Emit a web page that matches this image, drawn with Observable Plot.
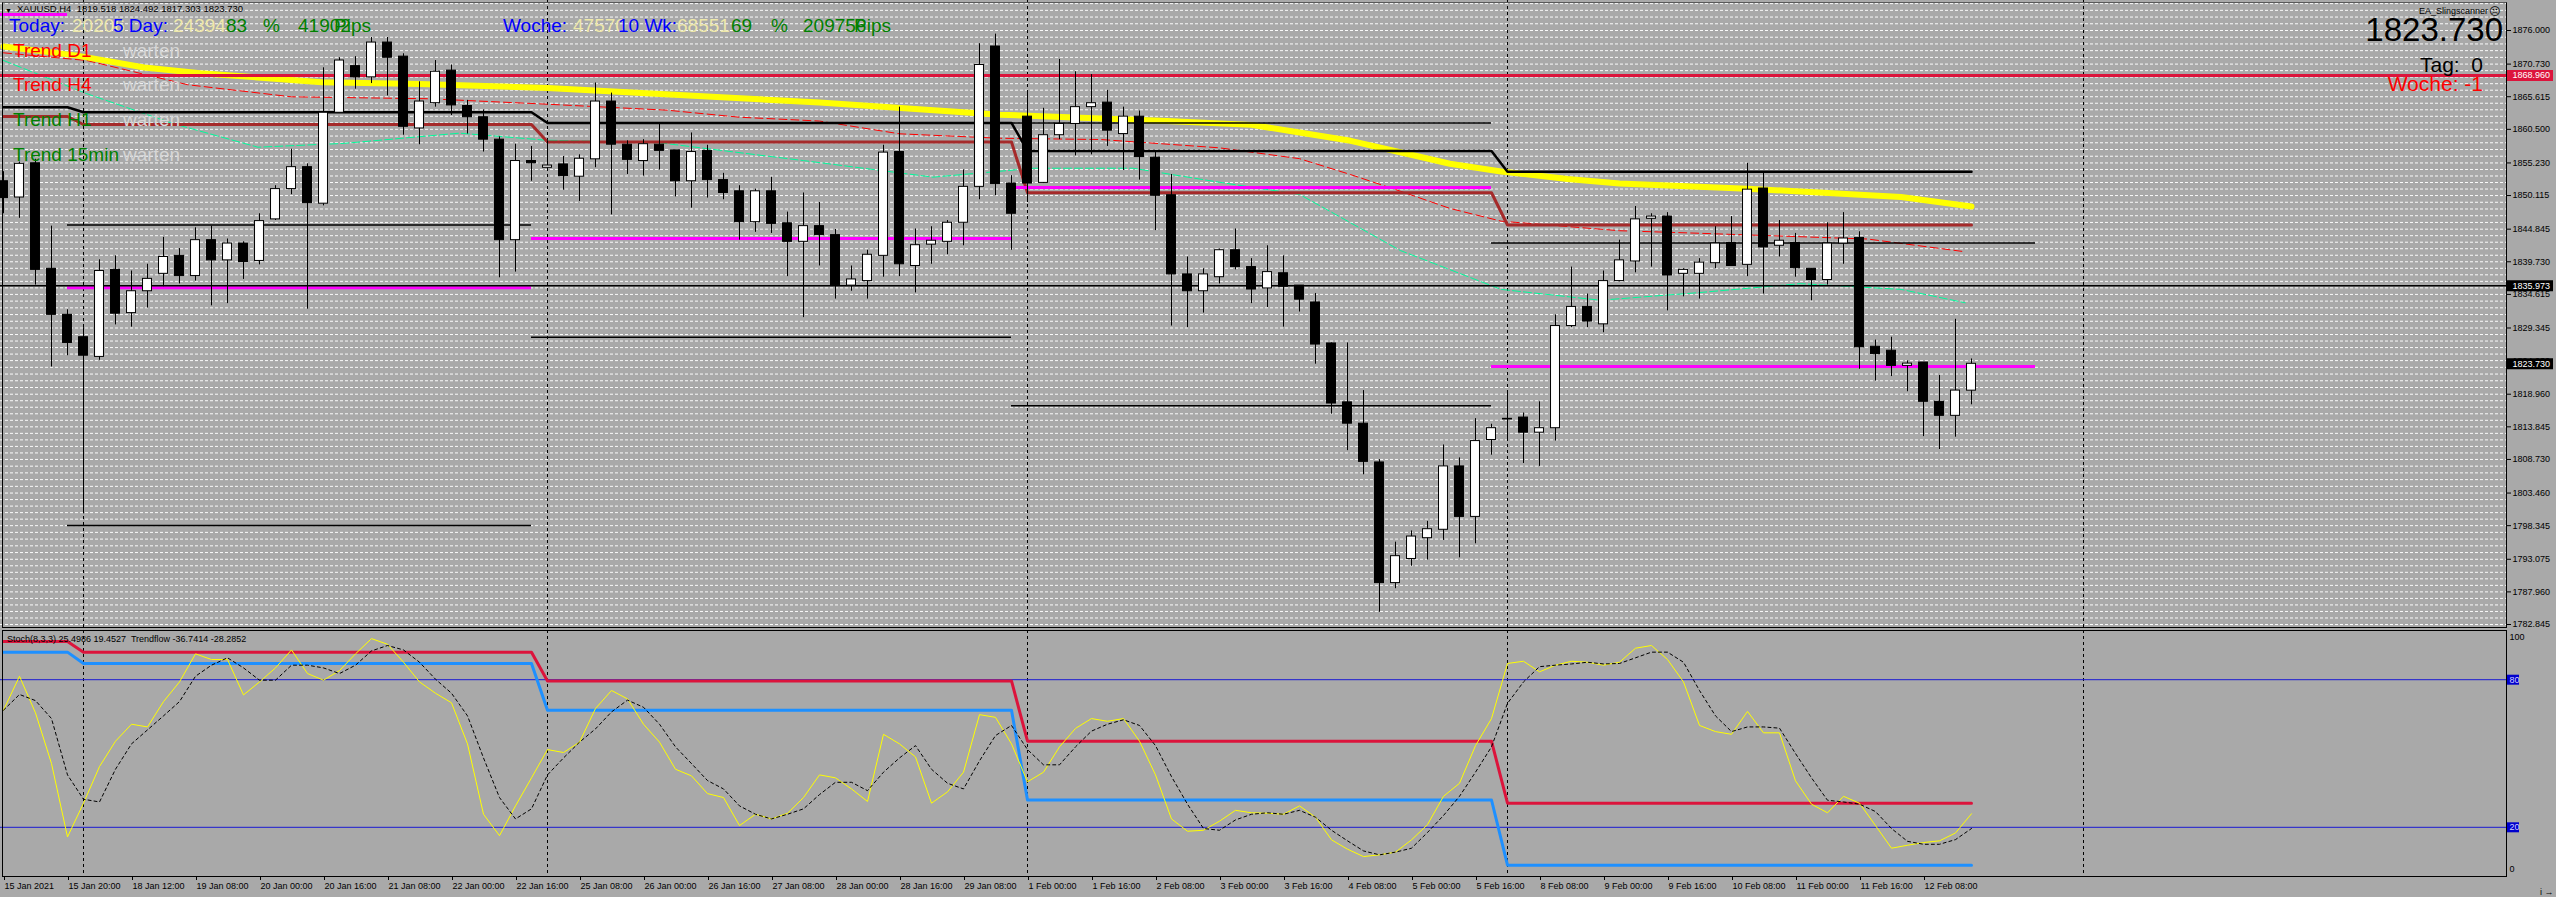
<!DOCTYPE html>
<html><head><meta charset="utf-8">
<script src="https://cdn.jsdelivr.net/npm/d3@7"></script>
<script src="https://cdn.jsdelivr.net/npm/@observablehq/plot@0.6"></script>
<style>
html,body{margin:0;padding:0;background:#a9a9a9;overflow:hidden;}
#wrap{position:relative;width:2556px;height:897px;font-family:"Liberation Sans",Arial,sans-serif;}
#main,#ind{position:absolute;left:0;}
#main{top:0;}
#ind{top:630px;}
.frame{position:absolute;border:1px solid #000;box-sizing:border-box;pointer-events:none;}
#fmain{left:2px;top:2px;width:2505px;height:626px;border-top-color:#5a5a5a;}
#find{left:2px;top:630px;width:2505px;height:247px;}
#overlay{position:absolute;left:0;top:0;pointer-events:none;}
</style></head>
<body><div id="wrap"><div id="main"></div><div id="ind"></div><div class="frame" id="fmain"></div><div class="frame" id="find"></div></div>
<script>
// ---------- DATA (XAUUSD H4) ----------
const openP = [1852.36,1849.81,1855.18,1838.63,1831.41,1827.90,1824.81,1838.46,1831.68,1835.11,
1837.84,1840.66,1837.49,1843.12,1839.95,1842.59,1839.86,1846.38,1851.13,1854.57,
1848.84,1863.10,1870.41,1868.65,1874.11,1871.90,1860.64,1864.60,1869.71,1864.16,
1862.40,1858.88,1843.12,1855.53,1854.47,1855.00,1853.07,1855.80,1864.86,1858.09,
1855.53,1858.09,1857.20,1852.36,1857.12,1852.54,1850.78,1845.94,1850.78,1845.76,
1842.86,1845.32,1843.91,1835.99,1836.70,1840.66,1856.94,1839.07,1842.42,1842.86,
1845.85,1851.48,1873.49,1852.00,1862.49,1852.10,1859.58,1861.34,1863.98,1864.69,
1859.76,1862.49,1856.06,1850.17,1837.75,1835.11,1837.31,1841.54,1838.90,1835.55,
1837.93,1835.99,1833.35,1826.92,1817.68,1814.34,1808.26,1789.34,1793.12,1796.38,
1797.70,1807.64,1799.72,1811.78,1815.10,1815.30,1812.93,1813.63,1829.65,1832.65,
1829.92,1836.70,1839.78,1846.47,1846.82,1837.84,1837.84,1839.51,1842.68,1839.25,
1851.22,1842.24,1842.68,1838.63,1836.87,1842.59,1843.47,1826.40,1825.78,1823.40,
1823.93,1817.77,1815.57,1819.518];
const highP = [1853.86,1855.36,1855.80,1845.32,1832.20,1829.40,1840.04,1840.66,1838.28,1839.34,
1843.56,1841.80,1845.06,1845.32,1843.30,1842.86,1847.26,1851.66,1857.38,1855.09,
1870.15,1871.73,1871.90,1874.90,1874.90,1872.35,1867.95,1871.29,1870.59,1865.04,
1863.54,1859.32,1858.17,1857.82,1858.70,1856.24,1856.50,1867.77,1866.18,1858.70,
1858.88,1861.34,1857.20,1859.93,1858.00,1853.60,1851.66,1851.13,1852.98,1847.52,
1850.52,1849.02,1844.80,1839.07,1841.54,1858.00,1863.98,1844.88,1845.23,1846.20,
1854.13,1873.93,1875.43,1853.24,1866.18,1863.80,1871.47,1869.53,1869.09,1866.62,
1863.98,1863.37,1856.94,1853.42,1840.48,1838.63,1841.72,1844.88,1840.22,1842.24,
1840.66,1835.99,1834.76,1827.00,1827.00,1819.53,1808.70,1795.76,1797.52,1799.02,
1811.00,1808.97,1815.13,1814.25,1819.09,1816.01,1817.77,1831.41,1838.90,1834.67,
1838.28,1843.12,1848.40,1847.26,1847.44,1838.63,1840.22,1845.23,1846.82,1855.18,
1853.69,1846.20,1844.18,1838.63,1845.85,1847.44,1844.44,1827.45,1827.90,1824.20,
1823.93,1821.90,1830.71,1824.492];
const lowP = [1847.26,1846.55,1836.08,1823.23,1825.00,1800.20,1824.28,1829.83,1829.48,1832.47,
1835.82,1836.26,1836.70,1832.82,1833.17,1836.96,1839.25,1846.20,1850.25,1832.29,
1848.50,1863.00,1866.80,1867.68,1865.74,1859.58,1858.09,1863.98,1862.66,1859.76,
1856.94,1837.22,1838.11,1852.36,1854.40,1850.96,1849.20,1854.48,1847.08,1853.42,
1853.16,1854.13,1849.90,1848.14,1849.72,1849.46,1843.12,1844.35,1844.17,1837.40,
1830.97,1839.07,1833.88,1835.11,1833.88,1837.31,1837.40,1834.85,1839.34,1840.83,
1842.24,1849.46,1850.08,1841.54,1849.02,1852.00,1858.88,1856.33,1856.50,1857.82,
1854.04,1852.54,1844.62,1829.65,1829.40,1831.68,1836.26,1838.46,1833.17,1832.56,
1829.48,1831.85,1823.67,1815.83,1810.11,1806.33,1784.76,1788.46,1791.98,1792.95,
1796.03,1793.30,1795.50,1809.40,1811.96,1808.09,1807.64,1811.61,1829.40,1829.40,
1828.60,1836.60,1838.00,1838.90,1832.03,1834.23,1833.88,1838.63,1839.00,1837.40,
1834.67,1840.48,1837.31,1833.61,1836.08,1839.34,1822.87,1821.02,1821.73,1819.35,
1812.31,1810.29,1812.22,1817.303];
const closeP = [1849.72,1855.09,1838.46,1831.41,1827.00,1825.00,1838.28,1831.59,1835.11,1837.05,
1840.48,1837.49,1843.12,1839.95,1842.59,1839.69,1846.11,1851.13,1854.57,1848.93,
1863.10,1871.29,1868.65,1874.11,1871.73,1860.90,1864.86,1869.53,1864.25,1862.40,
1858.88,1843.12,1855.53,1855.18,1854.82,1853.16,1855.89,1864.86,1858.09,1855.71,
1858.17,1857.12,1852.36,1856.94,1852.54,1850.52,1845.94,1850.78,1845.67,1842.86,
1845.32,1843.91,1836.08,1836.96,1840.83,1856.85,1839.34,1842.33,1843.03,1845.85,
1851.48,1870.59,1851.92,1847.26,1852.00,1859.58,1861.34,1863.98,1864.60,1860.29,
1862.49,1856.15,1850.08,1837.75,1835.11,1837.75,1841.54,1838.90,1835.38,1838.11,
1835.82,1833.79,1826.75,1817.50,1814.34,1808.35,1789.34,1793.56,1796.64,1797.79,
1807.64,1799.72,1811.61,1813.63,1815.00,1812.93,1813.63,1829.65,1832.65,1830.36,
1836.70,1839.95,1846.38,1846.82,1837.58,1838.46,1839.60,1842.59,1839.07,1851.04,
1841.98,1843.03,1838.72,1836.87,1842.59,1843.38,1826.31,1825.25,1823.40,1823.76,
1817.77,1815.57,1819.53,1823.730];

// Moving averages (sampled at bar positions)
const yellowMaBars = [0,4.5,8.8,12.3,19.9,26,34,51,62.3,72.7,78,81,84.2,87.3,90.4,93.6,97.75,101,109,118.6,123];
const yellowMaVals = [1873.5,1872.1,1870.2,1869.3,1867.9,1867.6,1867.0,1864.7,1862.8,1861.8,1861.2,1860.0,1858.7,1856.9,1855.1,1853.9,1852.7,1852.0,1851.2,1849.9,1848.4];
const redMaBars = [0,5.2,11.5,18,26.5,33.5,41.5,46,51,56,62.3,68.6,76,81,84.2,87.3,90.4,93.6,101,106,116.5,122.6];
const redMaVals = [1872.5,1871.3,1867.5,1865.6,1865.3,1864.5,1863.5,1862.4,1861.8,1859.8,1859.1,1858.9,1857.6,1855.9,1853.4,1850.8,1848.1,1846.1,1844.6,1844.2,1843.3,1841.3];
const greenMaBars = [0,5.2,10.6,15.9,21.3,28.5,33.9,41,50,58.1,64.4,70.6,76,81,87.3,93.6,99.8,106,112.3,118.6,122.6];
const greenMaVals = [1871.3,1866.1,1861.4,1857.7,1858.3,1859.9,1858.8,1858.4,1855.6,1853.0,1854.4,1854.4,1852.2,1850.3,1841.5,1835.4,1833.7,1834.9,1836.3,1835.4,1833.3];

// Weekly step indicator levels
const weekStartBars = [0,5,34,64,94];
const blackStepLevels = [1863.97,1863.19,1861.50,1857.12,1853.86];
const brownStepLevels = [1862.51,1861.26,1858.51,1850.55,1845.50];

// Weekly horizontal objects
const magentaSegStart = [-1,4,33,63,93];
const magentaSegEnd   = [4,33,63,93,127];
const magentaSegLevel = [1878.5,1835.64,1843.38,1851.39,1823.32];
const blackSegStart = [4,4,33,63,63,93];
const blackSegEnd   = [33,33,63,93,93,127];
const blackSegLevel = [1845.50,1798.37,1827.90,1817.15,1861.50,1842.69];

const redLevel = 1868.960;
const blackLevel = 1835.973;
const lastPrice = 1823.730;
const separatorBars = [5,34,64,94,130];

const priceTickValues = [1876.000,1870.730,1865.615,1860.500,1855.230,1850.115,1844.845,1839.730,1834.615,1829.345,1824.230,1818.960,1813.845,1808.730,1803.460,1798.345,1793.075,1787.960,1782.845];

const dateTickBars = [0,4,8,12,16,20,24,28,32,36,40,44,48,52,56,60,64,68,72,76,80,84,88,92,96,100,104,108,112,116,120];
const dateTickLabels = ["15 Jan 2021","15 Jan 20:00","18 Jan 12:00","19 Jan 08:00","20 Jan 00:00","20 Jan 16:00","21 Jan 08:00","22 Jan 00:00","22 Jan 16:00","25 Jan 08:00","26 Jan 00:00","26 Jan 16:00","27 Jan 08:00","28 Jan 00:00","28 Jan 16:00","29 Jan 08:00","1 Feb 00:00","1 Feb 16:00","2 Feb 08:00","3 Feb 00:00","3 Feb 16:00","4 Feb 08:00","5 Feb 00:00","5 Feb 16:00","8 Feb 08:00","9 Feb 00:00","9 Feb 16:00","10 Feb 08:00","11 Feb 00:00","11 Feb 16:00","12 Feb 08:00"];

// Stochastic (8,3,3)
const stochK = [67.6,81.4,66.5,45.9,16.1,29.8,44.7,55.0,61.9,60.8,71.1,79.1,90.5,88.2,88.2,73.8,79.1,84.8,92.1,82.5,
79.8,83.7,90.5,96.7,94.4,87.1,79.1,74.5,70.6,53.9,25.3,16.6,28.7,40.1,51.6,50.4,54.6,68.3,75.6,72.2,
61.9,54.6,43.6,40.9,33.7,32.1,20.7,25.3,23.4,25.7,32.1,41.3,40.1,35.6,30.5,57.8,53.9,48.6,29.8,34.4,
42.4,65.8,64.7,53.9,38.5,42.4,52.7,60.2,64.2,63.1,64.2,55.0,41.3,23.4,18.4,18.8,22.5,26.9,25.9,25.7,
25.3,28.7,24.1,14.9,11.1,8.1,8.8,9.9,14.9,21.1,32.6,37.9,53.2,64.2,86.6,87.5,83.2,85.9,87.5,87.1,
85.9,87.1,92.8,93.9,88.2,79.1,61.4,58.9,57.8,67.1,58.4,58.4,38.9,29.4,25.9,32.6,29.8,20.7,11.5,12.7,
13.8,14.5,17.7,25.5];
const stochD = [67.6,74.0,71.5,64.2,41.3,31.4,30.3,43.6,53.9,59.6,65.3,71.1,81.4,85.9,88.9,84.8,79.8,79.8,85.9,85.9,
84.8,82.5,85.9,91.7,93.9,92.1,87.1,80.2,74.5,65.3,48.2,32.1,23.4,27.5,41.3,48.2,54.6,60.0,66.9,71.7,
68.8,61.9,52.7,45.9,39.0,35.6,28.7,25.3,23.4,25.3,27.5,33.3,38.3,38.3,34.9,42.4,48.2,53.2,43.6,37.9,
35.6,47.0,57.3,61.4,51.6,45.4,45.4,52.7,59.1,61.9,63.7,61.4,53.2,40.6,29.4,19.5,18.8,23.0,25.3,25.9,
25.3,26.9,24.1,18.8,14.5,10.4,8.8,9.9,11.5,17.9,24.8,32.6,42.4,52.7,70.4,79.1,85.3,85.9,86.4,87.1,
86.4,86.6,88.9,91.2,91.2,87.1,75.6,65.3,58.9,60.8,60.8,60.3,50.0,40.1,31.0,30.3,29.4,26.4,19.5,14.3,
13.1,13.1,15.0,19.5];
const trendflowRedLevels  = [95.5,91.2,79.5,55.0,29.8];
const trendflowBlueLevels = [91.2,86.6,67.6,31.1,4.6];
const stochLevels = [20,80];
const stochEnds = [0,100];

// ---------- derived tables ----------
const candles = openP.map((o,i)=>({i, o, h:highP[i], l:lowP[i], c:closeP[i]}));
const bull = candles.filter(d=>d.c>=d.o), bear = candles.filter(d=>d.c<d.o);
const wk = i => d3.bisectRight(weekStartBars, i) - 1;
const stepRows = candles.map(d=>({i:d.i, black:blackStepLevels[wk(d.i)], brown:brownStepLevels[wk(d.i)],
  tfr:trendflowRedLevels[wk(d.i)], tfb:trendflowBlueLevels[wk(d.i)], k:stochK[d.i], d:stochD[d.i]}));
const pts = (b,v)=>b.map((x,j)=>({i:x,p:v[j]}));
const yellowPts = pts(yellowMaBars,yellowMaVals), redPts = pts(redMaBars,redMaVals), greenPts = pts(greenMaBars,greenMaVals);
const magentaSegs = magentaSegLevel.map((p,j)=>({p,a:magentaSegStart[j],b:magentaSegEnd[j]}));
const blackSegs = blackSegLevel.map((p,j)=>({p,a:blackSegStart[j],b:blackSegEnd[j]}));
const gridLevels = [];
for (let k=0;k<priceTickValues.length-1;k++) for (let j=0;j<5;j++) gridLevels.push(priceTickValues[k]+(priceTickValues[k+1]-priceTickValues[k])*j/5);
gridLevels.push(priceTickValues[priceTickValues.length-1]);
for (let j=1;j<=4;j++) gridLevels.push(priceTickValues[0]+(priceTickValues[0]-priceTickValues[1])*j/5);

const xDomain = [-0.1875, 156.4375];
const style = {background:"transparent", color:"black", fontFamily:"Liberation Sans, Arial, sans-serif", fontSize:"9px", overflow:"visible"};

const main = Plot.plot({
  width:2556, height:627, marginTop:0, marginBottom:0, marginLeft:0, marginRight:50,
  x:{domain:xDomain, axis:null},
  y:{domain:[1782.375,1880.705], axis:null},
  style,
  marks:[
    Plot.ruleY(gridLevels,{stroke:"white", strokeDasharray:"3,2", strokeWidth:1, strokeOpacity:0.95}),
    Plot.ruleX(separatorBars,{stroke:"black", strokeDasharray:"3,3", strokeWidth:1}),
    Plot.line(greenPts,{x:"i", y:"p", stroke:"#00FA9A", strokeWidth:1, strokeDasharray:"8,3"}),
    Plot.line(redPts,{x:"i", y:"p", stroke:"#FF0000", strokeWidth:1, strokeDasharray:"8,4"}),
    Plot.line(yellowPts,{x:"i", y:"p", stroke:"#FFFF00", strokeWidth:6}),
    Plot.line(stepRows,{x:"i", y:"brown", stroke:"#A52A2A", strokeWidth:3}),
    Plot.line(stepRows,{x:"i", y:"black", stroke:"#000000", strokeWidth:2.5}),
    Plot.ruleY(magentaSegs,{y:"p", x1:"a", x2:"b", stroke:"#FF00FF", strokeWidth:3}),
    Plot.ruleY(blackSegs,{y:"p", x1:"a", x2:"b", stroke:"#000000", strokeWidth:1.5}),
    Plot.ruleY([redLevel],{stroke:"#DC143C", strokeWidth:3}),
    Plot.ruleY([blackLevel],{stroke:"#000000", strokeWidth:1.5}),
    Plot.ruleX(candles,{x:"i", y1:"l", y2:"h", stroke:"black", strokeWidth:1}),
    Plot.rect(bull,{x1:d=>d.i-0.28, x2:d=>d.i+0.28, y1:d=>d.o, y2:d=>d.c, fill:"white", stroke:"black", strokeWidth:1}),
    Plot.rect(bear,{x1:d=>d.i-0.28, x2:d=>d.i+0.28, y1:d=>d.c, y2:d=>d.o, fill:"black", stroke:"black", strokeWidth:1}),
    Plot.axisY(priceTickValues,{anchor:"right", tickSize:4, tickPadding:2, tickFormat:d=>d.toFixed(3), fontSize:9}),
    Plot.ruleY([redLevel],{insetLeft:2507, insetRight:-47, stroke:"#DC143C", strokeWidth:11}),
    Plot.ruleY([blackLevel, lastPrice],{insetLeft:2507, insetRight:-47, stroke:"#000000", strokeWidth:11}),
    Plot.text([redLevel, blackLevel, lastPrice],{y:d=>d, text:d=>d.toFixed(3), frameAnchor:"right", dx:6, textAnchor:"start", fill:"white", fontSize:9})
  ]
});
document.getElementById("main").appendChild(main);

const lbl = new Map(dateTickBars.map((b,j)=>[b,dateTickLabels[j]]));
const ind = Plot.plot({
  width:2556, height:267, marginTop:0, marginBottom:21, marginLeft:0, marginRight:50,
  x:{domain:xDomain, axis:null},
  y:{domain:[0,100], axis:null},
  style,
  marks:[
    Plot.ruleX(separatorBars,{stroke:"black", strokeDasharray:"3,3", strokeWidth:1}),
    Plot.ruleY(stochLevels,{stroke:"#1a1ad2", strokeWidth:1}),
    Plot.line(stepRows,{x:"i", y:"tfr", stroke:"#DC143C", strokeWidth:3}),
    Plot.line(stepRows,{x:"i", y:"tfb", stroke:"#1E90FF", strokeWidth:3}),
    Plot.line(stepRows,{x:"i", y:"k", stroke:"#FFFF00", strokeWidth:1}),
    Plot.line(stepRows,{x:"i", y:"d", stroke:"black", strokeWidth:1, strokeDasharray:"3,3"}),
    Plot.ruleY(stochLevels,{insetLeft:2507, insetRight:-13, stroke:"#0000CD", strokeWidth:10}),
    Plot.text(stochLevels,{y:d=>d, text:d=>String(d), frameAnchor:"right", dx:3, textAnchor:"start", fill:"#d0d0ff", fontSize:9}),
    Plot.text([stochEnds[1]],{y:d=>d, text:d=>String(d), frameAnchor:"right", dx:3, dy:7, textAnchor:"start", fill:"black", fontSize:9}),
    Plot.text([stochEnds[0]],{y:d=>d, text:d=>String(d), frameAnchor:"right", dx:3, dy:-7, textAnchor:"start", fill:"black", fontSize:9}),
    Plot.axisX(dateTickBars,{anchor:"bottom", tickSize:4, tickPadding:2, tickFormat:b=>lbl.get(b), textAnchor:"start", dx:1, fontSize:9, lineAnchor:"top"})
  ]
});
document.getElementById("ind").appendChild(ind);

// ---------- text overlays ----------
const blue="#0000FF", pale="#EEE8AA", green="#008000", red="#FF0000", grey="#d6d6d6";
const overlayTexts = [
  {t:"▼", x:5, y:13, s:7, c:"black"},
  {t:"XAUUSD,H4  1819.518 1824.492 1817.303 1823.730", x:17, y:12, s:9.5, c:"black"},
  {t:"20206", x:72, y:32, s:19, c:pale},
  {t:"24394", x:173, y:32, s:19, c:pale},
  {t:"Today:", x:9, y:32, s:19, c:blue},
  {t:"5 Day:", x:113, y:32, s:19, c:blue},
  {t:"83", x:226, y:32, s:19, c:green},
  {t:"%", x:263, y:32, s:19, c:green},
  {t:"41902", x:298, y:32, s:19, c:green},
  {t:"Pips", x:334, y:32, s:19, c:green},
  {t:"47570", x:573, y:32, s:19, c:pale},
  {t:"68551", x:677, y:32, s:19, c:pale},
  {t:"Woche:", x:503, y:32, s:19, c:blue},
  {t:"10 Wk:", x:618, y:32, s:19, c:blue},
  {t:"69", x:731, y:32, s:19, c:green},
  {t:"%", x:771, y:32, s:19, c:green},
  {t:"209756", x:803, y:32, s:19, c:green},
  {t:"Pips", x:854, y:32, s:19, c:green},
  {t:"Trend D1", x:13, y:57, s:19, c:red},
  {t:"warten", x:123, y:57, s:19, c:grey},
  {t:"Trend H4", x:13, y:91, s:19, c:red},
  {t:"warten", x:123, y:91, s:19, c:grey},
  {t:"Trend H1", x:13, y:126, s:19, c:green},
  {t:"warten", x:123, y:126, s:19, c:grey},
  {t:"Trend 15min", x:13, y:161, s:19, c:green},
  {t:"warten", x:123, y:161, s:19, c:grey},
  {t:"EA_Slingscanner", x:2488, y:14, s:9, c:"black", a:"end"},
  {t:"☹", x:2489, y:15, s:11, c:"black", f:"DejaVu Sans"},
  {t:"1823.730", x:2503, y:41, s:33, c:"black", a:"end"},
  {t:"Tag:  0", x:2483, y:72, s:21, c:"black", a:"end"},
  {t:"Woche: -1", x:2483, y:91, s:21, c:red, a:"end"},
  {t:"Stoch(8,3,3) 25.4986 19.4527  Trendflow -36.7414 -28.2852", x:7, y:642, s:9, c:"black"}
];
const ov = d3.select("#wrap").append("svg").attr("id","overlay").attr("width",2556).attr("height",897);
for (const o of overlayTexts) {
  ov.append("text").attr("x",o.x).attr("y",o.y).attr("font-size",o.s).attr("fill",o.c)
    .attr("text-anchor",o.a||"start").attr("font-family",o.f||"Liberation Sans, Arial, sans-serif")
    .style("white-space","pre").text(o.t);
}
</script>
</body></html>
